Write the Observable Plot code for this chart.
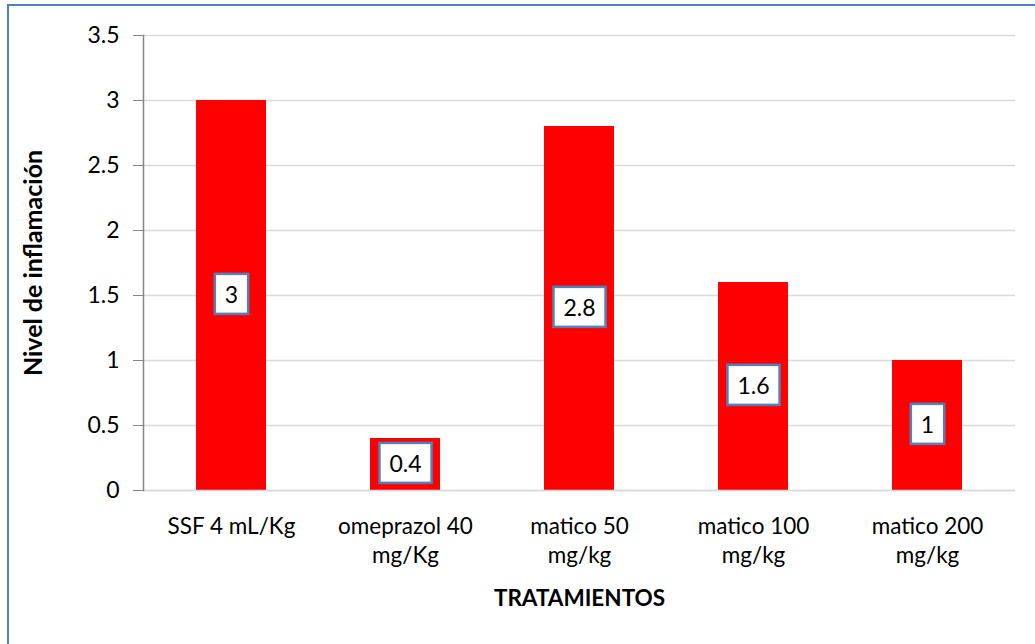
<!DOCTYPE html>
<html>
<head>
<meta charset="utf-8">
<script src="https://cdn.jsdelivr.net/npm/d3@7"></script>
<script src="https://cdn.jsdelivr.net/npm/@observablehq/plot@0.6"></script>
<style>
  html, body { margin: 0; padding: 0; background: #fff; overflow: hidden; }
  #wrap { position: relative; width: 1035px; height: 644px; }
  #frame { position: absolute; left: 7px; top: 4px; width: 1100px; height: 700px; border: 2px solid #4f81bd; pointer-events: none; }
  #chart { position: absolute; left: 0; top: 0; }
</style>
</head>
<body>
<div id="wrap"><div id="chart"></div><div id="frame"></div></div>
<script>
const categories = ["SSF 4 mL/Kg", "omeprazol 40\nmg/Kg", "matico 50\nmg/kg", "matico 100\nmg/kg", "matico 200\nmg/kg"];
const values = [3, 0.4, 2.8, 1.6, 1];
const yTicks = [0, 0.5, 1, 1.5, 2, 2.5, 3, 3.5];
const xTitle = "TRATAMIENTOS";
const yTitle = "Nivel de inflamación";

const data = categories.map((c, i) => ({cat: c, value: values[i]}));
const FONT = "Lato, 'Open Sans', sans-serif";

const chart = Plot.plot({
  width: 1035, height: 644,
  marginLeft: 143, marginRight: 20, marginTop: 35, marginBottom: 154,
  style: {fontFamily: FONT, fontSize: "22px", background: "transparent", color: "#000"},
  x: {domain: categories, paddingInner: 0.6, paddingOuter: 0.3, label: null},
  y: {domain: [0, 3.5], label: null},
  marks: [
    Plot.gridY(yTicks, {stroke: "#d9d9d9", strokeOpacity: 1, strokeWidth: 1.5}),
    Plot.barY(data, {x: "cat", y: "value", fill: "#ff0000"}),
    Plot.ruleY([0], {stroke: "#d9d9d9", strokeWidth: 1.5}),
    Plot.frame({anchor: "left", stroke: "#868686", strokeWidth: 1.5}),
    Plot.axisY(yTicks, {tickSize: 10, tickPadding: 14, stroke: "#868686", tickFormat: d => String(d), label: null, fontSize: 23, fill: "#000"}),
    Plot.axisX({tickSize: 0, tickPadding: 23, lineHeight: 1.29, label: null, fontSize: 22.5, fill: "#000"}),
    Plot.text([xTitle], {frameAnchor: "bottom", dy: 115, fontWeight: "bold", fontSize: 22.5, fill: "#000"}),
    Plot.text([yTitle], {frameAnchor: "left", dx: -110, rotate: -90, textAnchor: "middle", fontWeight: "bold", fontSize: 25, fill: "#000"}),
    Plot.text(data, {x: "cat", y: d => d.value / 2, text: d => String(d.value), fontSize: 23, fill: "#000", className: "vlabel"})
  ]
});
document.getElementById("chart").appendChild(chart);

// white boxes with blue border behind the value labels
const svg = chart.tagName.toLowerCase() === "svg" ? chart : chart.querySelector("svg");
const sb = svg.getBoundingClientRect();
const labelG = svg.querySelector("g.vlabel") || Array.from(svg.querySelectorAll("g[aria-label='text']")).pop();
const boxG = document.createElementNS("http://www.w3.org/2000/svg", "g");
labelG.parentNode.insertBefore(boxG, labelG);
labelG.querySelectorAll("text").forEach(t => {
  const b = t.getBoundingClientRect();
  const cx = b.left - sb.left + b.width / 2;
  const cy = b.top - sb.top + b.height / 2;
  const w = b.width + 20, h = 40;
  const r = document.createElementNS("http://www.w3.org/2000/svg", "rect");
  r.setAttribute("x", cx - w / 2);
  r.setAttribute("y", cy - h / 2);
  r.setAttribute("width", w);
  r.setAttribute("height", h);
  r.setAttribute("fill", "#fff");
  r.setAttribute("stroke", "#4f81bd");
  r.setAttribute("stroke-width", 2.5);
  boxG.appendChild(r);
});
</script>
</body>
</html>
